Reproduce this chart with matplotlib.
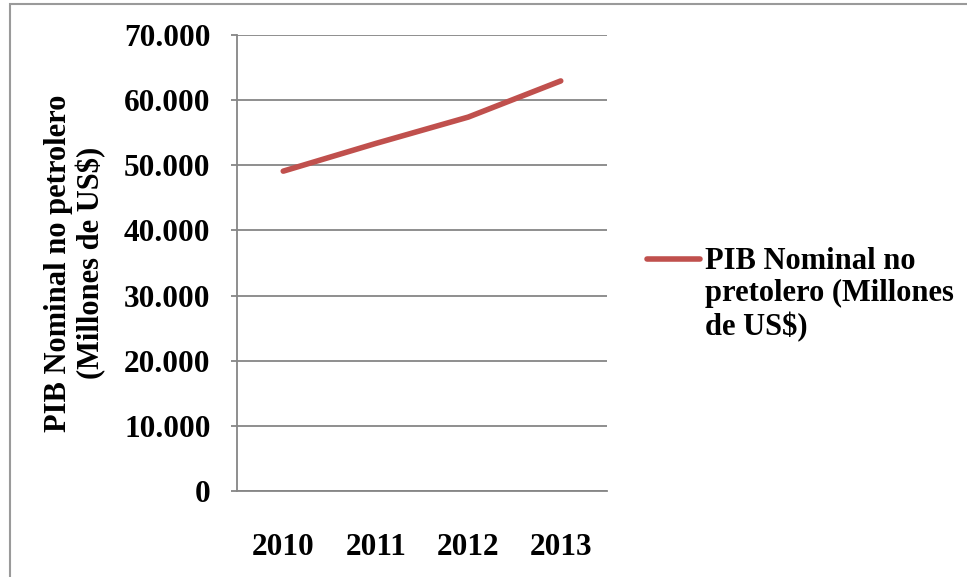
import matplotlib
matplotlib.use("Agg")
import matplotlib.pyplot as plt
from matplotlib.lines import Line2D
from matplotlib.patches import Rectangle
from matplotlib.ticker import FuncFormatter

years = ["2010", "2011", "2012", "2013"]
pib_no_petrolero = [49100, 53350, 57400, 62950]
y_ticks = [0, 10000, 20000, 30000, 40000, 50000, 60000, 70000]
series_label = "PIB Nominal no\npretolero (Millones\nde US$)"
y_label = "PIB Nominal no petrolero\n(Millones de US$)"

W, H = 967, 577
plt.rcParams['font.family'] = ['Liberation Serif', 'DejaVu Serif']
plt.rcParams['font.weight'] = 'bold'

fig = plt.figure(figsize=(W / 100, H / 100), dpi=100)
fig.patch.set_facecolor('white')

# outer chart frame
fig.patches.append(Rectangle((10 / W, -0.1), 1.2, (H - 4) / H + 0.1,
                             transform=fig.transFigure, fill=False,
                             edgecolor='#9a9a9a', linewidth=1.5))

ax = fig.add_axes([237 / W, (H - 491) / H, (607 - 237) / W, (491 - 35) / H])
x = list(range(len(years)))
line, = ax.plot(x, pib_no_petrolero, color='#C0504D', linewidth=4.0,
                solid_capstyle='round', solid_joinstyle='round', zorder=3)

ax.set_xlim(-0.5, len(years) - 0.5)
ax.set_ylim(0, 70000)
ax.set_yticks(y_ticks)
ax.yaxis.set_major_formatter(FuncFormatter(lambda v, p: "0" if v == 0 else f"{int(v):,}".replace(",", ".")))
ax.set_xticks(x)
ax.set_xticklabels(years)

for s in ['top', 'right']:
    ax.spines[s].set_visible(False)
for s in ['left', 'bottom']:
    ax.spines[s].set_color('#868686')
    ax.spines[s].set_linewidth(1.3)

ax.grid(axis='y', color='#868686', linewidth=1.3)
ax.set_axisbelow(True)
ax.tick_params(axis='y', length=4, color='#868686', width=1.3, pad=15,
               labelsize=22.5)
ax.tick_params(axis='x', length=0, pad=30, labelsize=22.5)
for t in ax.get_xticklabels() + ax.get_yticklabels():
    t.set_fontweight('bold')

ax.set_ylabel(y_label, fontsize=22, fontweight='bold', labelpad=13,
              linespacing=1.12)

# legend
fig.lines.append(Line2D([647 / W, 700 / W], [1 - 259 / H, 1 - 259 / H],
                        transform=fig.transFigure, color='#C0504D',
                        linewidth=4.0, solid_capstyle='round'))
fig.text(705 / W, 1 - 247 / H, series_label, fontsize=22, fontweight='bold',
         ha='left', va='top', linespacing=1.15)

fig.savefig("out.png", dpi=100)
